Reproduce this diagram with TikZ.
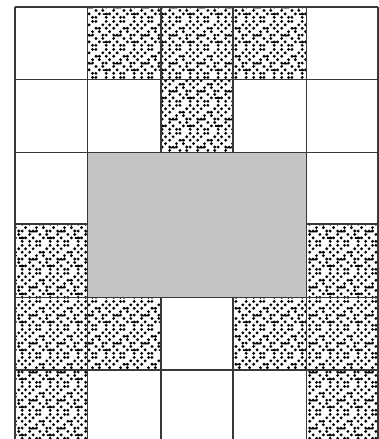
\documentclass[tikz,border=0pt]{standalone}
\usetikzlibrary{patterns}
\pgfdeclarepatternformonly{maze}{\pgfqpoint{0pt}{0pt}}{\pgfqpoint{28pt}{28pt}}{\pgfqpoint{28pt}{28pt}}{%
  \foreach \r/\c in {0/0,0/2,0/3,0/6,1/1,1/4,1/6,1/7,2/0,2/3,2/5,3/0,3/1,3/2,3/5,3/6,4/2,4/4,4/7,5/0,5/3,5/4,5/6,6/1,6/5,6/7,7/0,7/2,7/3,7/6}{%
    \pgfpathcircle{\pgfpoint{\c*3.5pt+1.75pt}{\r*3.5pt+1.75pt}}{1.6pt}%
  }%
  \pgfpathrectangle{\pgfpoint{1.75pt}{10.8pt}}{\pgfpoint{7pt}{1.6pt}}%
  \pgfpathrectangle{\pgfpoint{12.25pt}{18.3pt}}{\pgfpoint{5pt}{1.6pt}}%
  \pgfpathrectangle{\pgfpoint{19.25pt}{4.3pt}}{\pgfpoint{5.5pt}{1.6pt}}%
  \pgfusepath{fill}%
}
\tikzset{
  gridline/.style={draw=black!78, line width=1.8pt},
  mazecell/.style={pattern=maze, pattern color=black},
  block/.style={fill=black!23, draw=black!78, line width=1.8pt}
}
\begin{document}
\begin{tikzpicture}[x=1pt,y=-1pt]
\useasboundingbox (0,0) rectangle (379,439);
\clip (0,0) rectangle (379,439);
% patterned cells
\foreach \a/\b/\c/\d in {87.5/7/161/79.5, 161/7/233/79.5, 233/7/306.5/79.5, 161/79.5/233/152.5,
  15/224/87.5/297.5, 306.5/224/378/297.5, 15/297.5/87.5/370, 87.5/297.5/161/370,
  233/297.5/306.5/370, 306.5/297.5/378/370, 15/370/87.5/443, 306.5/370/378/443}
  \fill[mazecell] (\a,\b) rectangle (\c,\d);
% grid lines
\foreach \x in {15,87.5,161,233,306.5,378}
  \draw[gridline] (\x,7) -- (\x,445);
\foreach \y in {7,79.5,152.5,224,297.5,370}
  \draw[gridline] (15,\y) -- (378,\y);
% gray block
\draw[block] (87.5,152.5) rectangle (306.5,297.5);
\end{tikzpicture}
\end{document}
